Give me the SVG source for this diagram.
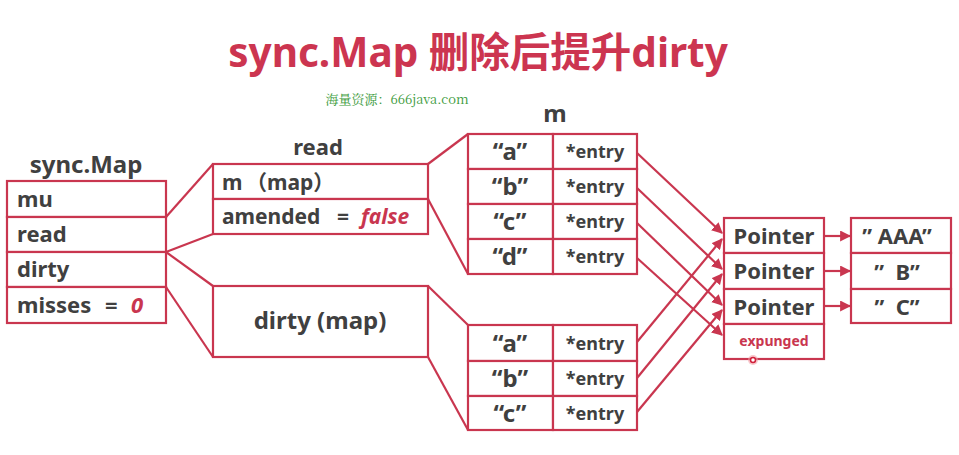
<svg xmlns="http://www.w3.org/2000/svg" width="959" height="455" viewBox="0 0 959 455">
<defs>
<style>
.box{fill:#fff;stroke:#c9364f;stroke-width:2.2}
.ln{fill:none;stroke:#c9364f;stroke-width:2.2}
.ar{fill:none;stroke:#c9364f;stroke-width:2.2;marker-end:url(#ah)}
.t{font-family:"Noto Sans","Noto Sans CJK SC",sans-serif;font-weight:700;fill:#404040}
.red{fill:#c9364f}
.pre{white-space:pre}
</style>
<marker id="ah" viewBox="0 0 10 10" refX="9" refY="5" markerWidth="5" markerHeight="5" orient="auto" markerUnits="strokeWidth">
<path d="M0,0 L10,5 L0,10 z" fill="#c9364f"/>
</marker>
</defs>
<rect width="959" height="455" fill="#fff"/>
<text x="478" y="67" text-anchor="middle" class="t" style="font-size:40.5px;fill:#cc3550">sync.Map 删除后提升dirty</text>
<text x="397" y="104" text-anchor="middle" style="font-family:'Noto Serif CJK SC','Noto Sans CJK SC','Liberation Serif',serif;font-size:13px;fill:#3a9a3a">海量资源：666java.com</text>

<g id="syncmap">
<text x="86" y="173" text-anchor="middle" class="t" font-size="24">sync.Map</text>
<rect class="box" x="7" y="181" width="159" height="36"/>
<rect class="box" x="7" y="217" width="159" height="35"/>
<rect class="box" x="7" y="252" width="159" height="35"/>
<rect class="box" x="7" y="287" width="159" height="36"/>
<text x="17" y="207" class="t" font-size="22">mu</text>
<text x="17" y="242" class="t" font-size="22">read</text>
<text x="17" y="277" class="t" font-size="22">dirty</text>
<text x="17" y="313" class="t" font-size="22">misses<tspan x="105">=</tspan><tspan x="131" class="red" font-style="italic">0</tspan></text>
</g>

<g id="read">
<text x="318" y="155" text-anchor="middle" class="t" font-size="22">read</text>
<rect class="box" x="213" y="164" width="215" height="35"/>
<rect class="box" x="213" y="199" width="215" height="35"/>
<text x="222" y="190" class="t" font-size="21">m<tspan x="246">（map）</tspan></text>
<text x="222" y="224" class="t" font-size="21">amended<tspan x="337">=</tspan><tspan x="361" class="red" font-style="italic">false</tspan></text>
</g>

<g id="dirtymap">
<rect class="box" x="213" y="286" width="215" height="71"/>
<text x="320" y="329" text-anchor="middle" class="t" font-size="24">dirty (map)</text>
</g>

<g id="readm">
<text x="555" y="122" text-anchor="middle" class="t" font-size="24">m</text>
<rect class="box" x="468" y="134" width="85" height="35"/>
<rect class="box" x="553" y="134" width="84" height="35"/>
<rect class="box" x="468" y="169" width="85" height="35"/>
<rect class="box" x="553" y="169" width="84" height="35"/>
<rect class="box" x="468" y="204" width="85" height="35"/>
<rect class="box" x="553" y="204" width="84" height="35"/>
<rect class="box" x="468" y="239" width="85" height="35"/>
<rect class="box" x="553" y="239" width="84" height="35"/>
<text x="510" y="160" text-anchor="middle" class="t" font-size="24">“a”</text>
<text x="510" y="195" text-anchor="middle" class="t" font-size="24">“b”</text>
<text x="510" y="230" text-anchor="middle" class="t" font-size="24">“c”</text>
<text x="510" y="265" text-anchor="middle" class="t" font-size="24">“d”</text>
<text x="595" y="158" text-anchor="middle" class="t" font-size="18">*entry</text>
<text x="595" y="193" text-anchor="middle" class="t" font-size="18">*entry</text>
<text x="595" y="228" text-anchor="middle" class="t" font-size="18">*entry</text>
<text x="595" y="263" text-anchor="middle" class="t" font-size="18">*entry</text>
</g>

<g id="dirtym">
<rect class="box" x="468" y="325" width="85" height="36"/>
<rect class="box" x="553" y="325" width="84" height="36"/>
<rect class="box" x="468" y="361" width="85" height="35"/>
<rect class="box" x="553" y="361" width="84" height="35"/>
<rect class="box" x="468" y="396" width="85" height="34"/>
<rect class="box" x="553" y="396" width="84" height="34"/>
<text x="510" y="352" text-anchor="middle" class="t" font-size="24">“a”</text>
<text x="510" y="387" text-anchor="middle" class="t" font-size="24">“b”</text>
<text x="510" y="422" text-anchor="middle" class="t" font-size="24">“c”</text>
<text x="595" y="350" text-anchor="middle" class="t" font-size="18">*entry</text>
<text x="595" y="385" text-anchor="middle" class="t" font-size="18">*entry</text>
<text x="595" y="420" text-anchor="middle" class="t" font-size="18">*entry</text>
</g>

<g id="pointers">
<rect class="box" x="724" y="218" width="100" height="35"/>
<rect class="box" x="724" y="253" width="100" height="36"/>
<rect class="box" x="724" y="289" width="100" height="35"/>
<rect class="box" x="724" y="324" width="100" height="35"/>
<text x="774" y="244" text-anchor="middle" class="t" font-size="22">Pointer</text>
<text x="774" y="279" text-anchor="middle" class="t" font-size="22">Pointer</text>
<text x="774" y="315" text-anchor="middle" class="t" font-size="22">Pointer</text>
<text x="774" y="346" text-anchor="middle" class="t red" font-size="14">expunged</text>
</g>

<g id="values">
<rect class="box" x="851" y="218" width="100" height="35"/>
<rect class="box" x="851" y="253" width="100" height="36"/>
<rect class="box" x="851" y="289" width="100" height="34"/>
<text x="897" y="244" text-anchor="middle" class="t pre" font-size="22">” AAA”</text>
<text x="897" y="280" text-anchor="middle" class="t pre" font-size="22">”  B”</text>
<text x="897" y="315" text-anchor="middle" class="t pre" font-size="22">”  C”</text>
</g>

<g id="connectors">
<line class="ln" x1="166" y1="217" x2="213" y2="164"/>
<line class="ln" x1="166" y1="252" x2="213" y2="234"/>
<line class="ln" x1="166" y1="252" x2="213" y2="286"/>
<line class="ln" x1="166" y1="287" x2="213" y2="357"/>
<line class="ln" x1="428" y1="164" x2="468" y2="134"/>
<line class="ln" x1="428" y1="199" x2="468" y2="274"/>
<line class="ln" x1="428" y1="286" x2="468" y2="325"/>
<line class="ln" x1="428" y1="357" x2="468" y2="430"/>
<line class="ar" x1="637" y1="153" x2="722" y2="233"/>
<line class="ar" x1="637" y1="188" x2="722" y2="269"/>
<line class="ar" x1="637" y1="223" x2="722" y2="305"/>
<line class="ar" x1="637" y1="258" x2="722" y2="335"/>
<line class="ar" x1="637" y1="342" x2="722" y2="239"/>
<line class="ar" x1="637" y1="378" x2="722" y2="274"/>
<line class="ar" x1="637" y1="412" x2="722" y2="310"/>
<line class="ar" x1="824" y1="236" x2="850" y2="236"/>
<line class="ar" x1="824" y1="271" x2="850" y2="271"/>
<line class="ar" x1="824" y1="306" x2="850" y2="306"/>
</g>
<circle cx="753" cy="360" r="5" fill="#f4a0a8" opacity="0.6"/>
<circle cx="753" cy="360" r="2.5" fill="#fff" stroke="#d0203a" stroke-width="1.5"/>
</svg>
